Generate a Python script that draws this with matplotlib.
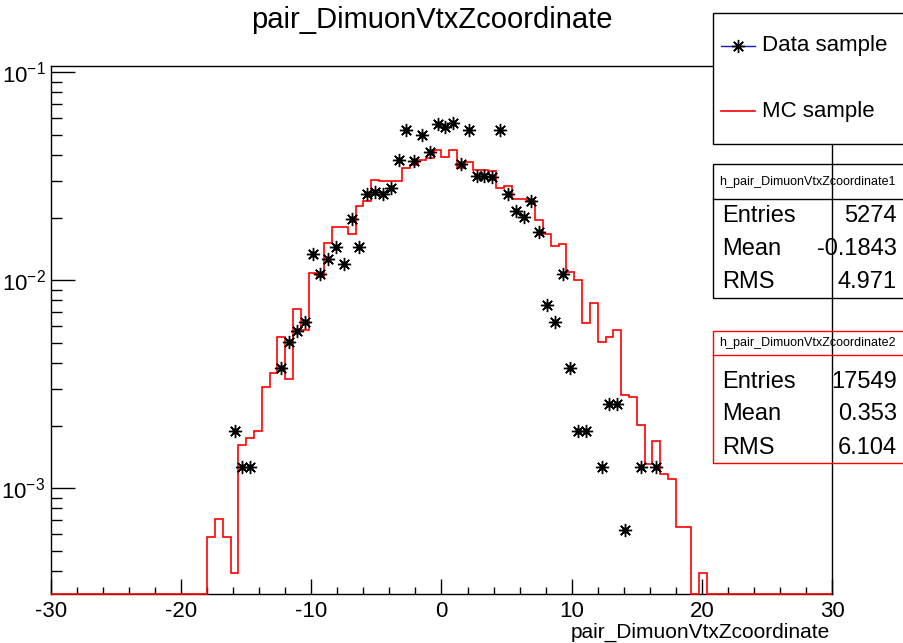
import numpy as np
import matplotlib
matplotlib.use("Agg")
import matplotlib.pyplot as plt
from matplotlib.patches import Rectangle
from matplotlib.lines import Line2D
from matplotlib.ticker import MultipleLocator, LogLocator, NullFormatter, FuncFormatter

plt.rcParams['font.family'] = ['Liberation Sans', 'DejaVu Sans']
plt.rcParams['mathtext.fontset'] = 'custom'
plt.rcParams['mathtext.rm'] = 'Liberation Sans'
plt.rcParams['mathtext.it'] = 'Liberation Sans:italic'

# binning of both histograms: 100 bins of 0.6 between -30 and 30
x_lo, x_hi, bin_w = -30.0, 30.0, 0.6

# MC sample (normalised), first filled bin starts at -18.0
mc_start = -18.0
mc_values = [
    5.8e-4, 7.1e-4, 5.8e-4, 3.9e-4, 1.61e-3, 1.74e-3, 1.89e-3, 3.05e-3,
    3.57e-3, 5.33e-3, 3.34e-3, 7.24e-3, 5.74e-3, 1.08e-2, 1.04e-2, 1.51e-2,
    1.80e-2, 1.80e-2, 1.67e-2, 2.26e-2, 2.39e-2, 3.04e-2, 2.98e-2, 3.01e-2,
    3.01e-2, 3.46e-2, 3.58e-2, 3.79e-2, 3.85e-2, 4.20e-2, 3.90e-2, 4.22e-2,
    3.46e-2, 3.68e-2, 3.39e-2, 3.39e-2, 3.33e-2, 2.77e-2, 2.82e-2, 2.46e-2,
    2.46e-2, 2.41e-2, 1.95e-2, 1.67e-2, 1.46e-2, 1.50e-2, 1.10e-2, 1.00e-2,
    6.20e-3, 7.73e-3, 5.07e-3, 5.33e-3, 5.75e-3, 2.79e-3, 2.73e-3, 2.01e-3,
    1.31e-3, 1.69e-3, 1.17e-3, 1.11e-3, 6.5e-4, 6.5e-4, 0.0, 3.9e-4,
]

# data sample (normalised), bin centres of non-empty bins
data_x = [-15.9, -15.3, -14.7, -12.3, -11.7, -11.1, -10.5, -9.9, -9.3, -8.7,
          -8.1, -7.5, -6.9, -6.3, -5.7, -5.1, -4.5, -3.9, -3.3, -2.7,
          -2.1, -1.5, -0.9, -0.3, 0.3, 0.9, 1.5, 2.1, 2.7, 3.3,
          3.9, 4.5, 5.1, 5.7, 6.3, 6.9, 7.5, 8.1, 8.7, 9.3,
          9.9, 10.5, 11.1, 12.3, 12.9, 13.5, 14.1, 15.3, 16.5]
data_y = [1.89e-3, 1.26e-3, 1.26e-3, 3.79e-3, 5.06e-3, 5.69e-3, 6.32e-3, 1.33e-2, 1.07e-2, 1.26e-2,
          1.45e-2, 1.20e-2, 1.96e-2, 1.45e-2, 2.59e-2, 2.65e-2, 2.59e-2, 2.78e-2, 3.79e-2, 5.25e-2,
          3.73e-2, 4.99e-2, 4.11e-2, 5.62e-2, 5.47e-2, 5.68e-2, 3.60e-2, 5.25e-2, 3.16e-2, 3.16e-2,
          3.13e-2, 5.25e-2, 2.59e-2, 2.15e-2, 2.02e-2, 2.40e-2, 1.71e-2, 7.58e-3, 6.32e-3, 1.07e-2,
          3.79e-3, 1.89e-3, 1.89e-3, 1.26e-3, 2.53e-3, 2.53e-3, 6.3e-4, 1.26e-3, 1.26e-3]

stats1 = [("Entries", "5274"), ("Mean", "-0.1843"), ("RMS", "4.971")]
stats2 = [("Entries", "17549"), ("Mean", "0.353"), ("RMS", "6.104")]

y_lo, y_hi = 3.1e-4, 0.107

W, H = 904, 643
fig = plt.figure(figsize=(W / 100, H / 100), dpi=100)
ax = fig.add_axes([51 / W, 1 - 594 / H, (832 - 51) / W, (594 - 66) / H])

# full MC histogram over the whole range, empty bins sit on the axis floor
n_bins = int(round((x_hi - x_lo) / bin_w))
edges = np.linspace(x_lo, x_hi, n_bins + 1)
mc_full = np.zeros(n_bins)
i0 = int(round((mc_start - x_lo) / bin_w))
mc_full[i0:i0 + len(mc_values)] = mc_values
mc_draw = np.where(mc_full > 0, mc_full, y_lo)
ax.stairs(mc_draw, edges, baseline=None, color='red', lw=1.2, zorder=3, clip_on=False)

ax.plot(data_x, data_y, ls='none', marker=(8, 2, 0), ms=9.5, mec='black', mew=1.0, zorder=4)
ax.plot(data_x, data_y, ls='none', marker='o', ms=3.5, color='black', zorder=4)

ax.set_xlim(x_lo, x_hi)
ax.set_yscale('log')
ax.set_ylim(y_lo, y_hi)

ax.xaxis.set_major_locator(MultipleLocator(10))
ax.xaxis.set_minor_locator(MultipleLocator(2))
ax.yaxis.set_major_locator(LogLocator(base=10, numticks=10))
ax.yaxis.set_minor_locator(LogLocator(base=10, subs=np.arange(2, 10), numticks=20))
ax.yaxis.set_minor_formatter(NullFormatter())
ax.yaxis.set_major_formatter(FuncFormatter(lambda v, p: r'$10^{%d}$' % int(round(np.log10(v)))))
ax.xaxis.set_major_formatter(FuncFormatter(lambda v, p: '%d' % v))

ax.tick_params(which='both', direction='in', top=False, right=False, width=1)
ax.tick_params(axis='x', which='major', length=11, labelsize=16, pad=5)
ax.tick_params(axis='x', which='minor', length=5.3)
ax.tick_params(axis='y', which='major', length=17, labelsize=16, pad=4)
ax.tick_params(axis='y', which='minor', length=8)
for s in ax.spines.values():
    s.set_linewidth(1.0)

fig.text(431.5 / W, 1 - 20 / H, "pair_DimuonVtxZcoordinate", ha='center', va='center', fontsize=21)
fig.text(830 / W, 1 - 632 / H, "pair_DimuonVtxZcoordinate", ha='right', va='center', fontsize=15)

# legend box
bx = 712.7 / W
fig.add_artist(Rectangle((bx, 1 - 144 / H), 1.1 - bx, (144 - 12.7) / H, transform=fig.transFigure,
                         facecolor='white', edgecolor='black', lw=1.0, zorder=5))
yl1, yl2 = 1 - 46 / H, 1 - 111 / H
fig.add_artist(Line2D([720.7 / W, 755 / W], [yl1, yl1], color='#1818c0', lw=1.0, zorder=6))
fig.add_artist(Line2D([738 / W], [yl1], marker=(8, 2, 0), ms=9.5, mec='black', mew=1.0, ls='none', zorder=7))
fig.add_artist(Line2D([720.7 / W, 755 / W], [yl2, yl2], color='red', lw=1.2, zorder=6))
fig.text(762 / W, yl1, "Data sample", ha='left', va='center', fontsize=16, zorder=7)
fig.text(762 / W, yl2, "MC sample", ha='left', va='center', fontsize=16, zorder=7)


def stat_box(top, div, bottom, colour, title, rows, row_y):
    fig.add_artist(Rectangle((bx, 1 - bottom / H), 1.1 - bx, (bottom - top) / H, transform=fig.transFigure,
                             facecolor='none', edgecolor=colour, lw=1.0, zorder=5))
    fig.add_artist(Line2D([bx, 1.0], [1 - div / H] * 2, color=colour, lw=1.0, zorder=5))
    fig.text(807.5 / W, 1 - (top + div) / 2 / H, title, ha='center', va='center', fontsize=9, zorder=6)
    for (lab, val), yy in zip(rows, row_y):
        fig.text(722 / W, 1 - yy / H, lab, ha='left', va='center', fontsize=17, zorder=6)
        fig.text(897 / W, 1 - yy / H, val, ha='right', va='center', fontsize=17, zorder=6)


stat_box(164.3, 198.7, 297.7, 'black', "h_pair_DimuonVtxZcoordinate1", stats1, [216.5, 249.5, 282.5])
stat_box(331.0, 355.0, 462.7, 'red', "h_pair_DimuonVtxZcoordinate2", stats2, [381.5, 414.5, 447.5])

fig.savefig("out.png", dpi=100)
